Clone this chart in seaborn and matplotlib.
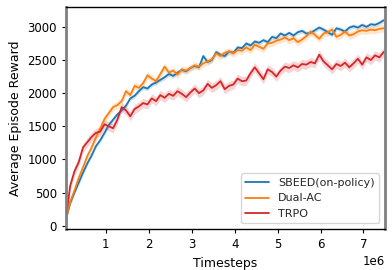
import numpy as np
import pandas as pd
import seaborn as sns
import matplotlib.pyplot as plt

sns.set_style("ticks")

# evaluation points (timesteps), every 1e5 steps
timesteps = np.arange(75) * 1e5 + 7e4

sbeed = [100, 340, 500, 650, 800, 940, 1060, 1200, 1290, 1400,
         1520, 1600, 1680, 1740, 1810, 1920, 1960, 2030, 2090, 2070,
         2130, 2160, 2200, 2240, 2290, 2260, 2310, 2350, 2330, 2380,
         2410, 2390, 2560, 2470, 2500, 2620, 2580, 2560, 2630, 2610,
         2690, 2680, 2750, 2720, 2780, 2760, 2800, 2770, 2850, 2830,
         2900, 2870, 2910, 2870, 2920, 2940, 2900, 2910, 2950, 2990,
         2960, 2920, 2880, 2980, 2960, 2930, 2990, 3010, 2990, 3030,
         3000, 3040, 3030, 3060, 3100]

dual_ac = [100, 360, 530, 720, 880, 1050, 1180, 1330, 1470, 1610,
           1700, 1790, 1820, 1880, 2030, 1970, 2110, 2080, 2150, 2270,
           2220, 2180, 2290, 2400, 2310, 2340, 2280, 2360, 2340, 2380,
           2420, 2400, 2450, 2480, 2510, 2600, 2560, 2610, 2630, 2600,
           2650, 2640, 2690, 2650, 2730, 2700, 2670, 2750, 2760, 2790,
           2810, 2840, 2800, 2830, 2770, 2810, 2860, 2930, 2880, 2820,
           2900, 2920, 2960, 2850, 2880, 2930, 2870, 2890, 2930, 2950,
           2940, 2960, 2950, 2970, 2980]

trpo = [100, 600, 820, 960, 1180, 1260, 1340, 1400, 1420, 1530,
        1500, 1470, 1600, 1790, 1740, 1650, 1760, 1800, 1850, 1830,
        1920, 1880, 1970, 1930, 1990, 1960, 2030, 1990, 1940, 2010,
        2070, 2000, 2040, 2140, 2080, 2120, 2180, 2060, 2110, 2130,
        2220, 2180, 2190, 2300, 2390, 2300, 2210, 2360, 2320, 2250,
        2340, 2400, 2380, 2420, 2390, 2440, 2430, 2470, 2450, 2580,
        2480, 2420, 2360, 2440, 2410, 2460, 2390, 2450, 2520, 2430,
        2540, 2500, 2570, 2540, 2620]

methods = ["SBEED(on-policy)", "Dual-AC", "TRPO"]
colors = ["#1f77b4", "#ff7f0e", "#d62728"]
# half width of the shaded band for each method
spread = [35, 55, 70]

df = pd.concat([
    pd.DataFrame({"Timesteps": timesteps, "Reward": vals, "Method": m})
    for m, vals in zip(methods, [sbeed, dual_ac, trpo])
])

fig = plt.figure(figsize=(3.92, 2.70), dpi=100)
ax = fig.add_axes([0.168, 0.152, 0.814, 0.822])

for m, c, s in zip(methods, colors, spread):
    d = df[df["Method"] == m]
    ax.fill_between(d["Timesteps"], d["Reward"] - s, d["Reward"] + s,
                    color=c, alpha=0.2, linewidth=0)

sns.lineplot(data=df, x="Timesteps", y="Reward", hue="Method",
             palette=colors, linewidth=1.3, ax=ax)

ax.set_xlim(timesteps[0], 7.5e6)
ax.set_ylim(-50, 3300)
ax.set_xticks([1e6, 2e6, 3e6, 4e6, 5e6, 6e6, 7e6])
ax.set_yticks([0, 500, 1000, 1500, 2000, 2500, 3000])
ax.ticklabel_format(axis="x", style="sci", scilimits=(6, 6))
ax.tick_params(labelsize=8.5, length=3, width=0.8, colors="black")
ax.xaxis.get_offset_text().set_fontsize(8.5)
ax.set_xlabel("Timesteps", fontsize=9, color="black")
ax.set_ylabel("Average Episode Reward", fontsize=9, color="black")

for side in ["left", "right"]:
    ax.spines[side].set_color("#808080")
    ax.spines[side].set_linewidth(2)
for side in ["top", "bottom"]:
    ax.spines[side].set_color("black")
    ax.spines[side].set_linewidth(1)

ax.legend(loc="lower right", fontsize=8, handlelength=2.2, frameon=True)

plt.savefig("out.png", dpi=100)
